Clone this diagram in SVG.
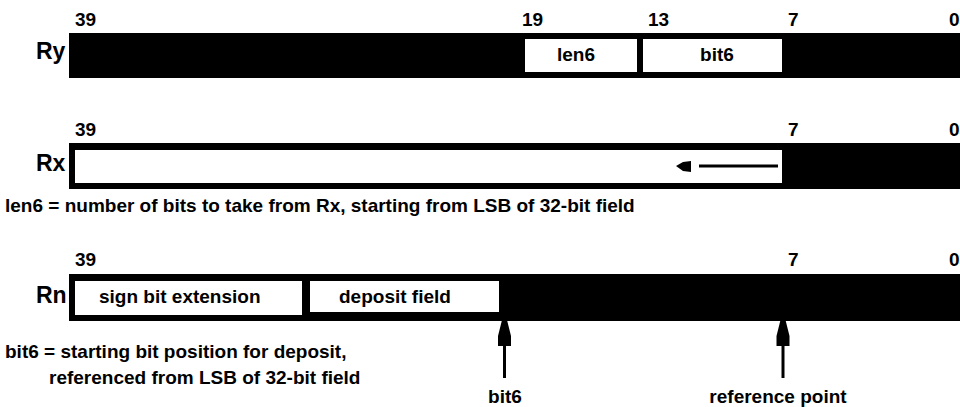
<svg xmlns="http://www.w3.org/2000/svg" width="960" height="407" viewBox="0 0 960 407">
<style>
text{font-family:"Liberation Sans",Arial,sans-serif;font-weight:bold;fill:#000}
.s{font-size:19px}
.r{font-size:23px}
.m{text-anchor:middle}
.bar{fill:#000}
.fld{fill:#fff}
.ln{stroke:#000;stroke-width:3;fill:none}
.hd{fill:#000}
</style>
<rect width="960" height="407" fill="#fff"/>
<g id="Ry">
<text class="s" x="75" y="26">39</text>
<text class="s" x="522" y="26">19</text>
<text class="s" x="648" y="26">13</text>
<text class="s" x="788" y="26">7</text>
<text class="s" x="949" y="26">0</text>
<text class="r" x="36" y="59">Ry</text>
<rect class="bar" x="69" y="33" width="891" height="45"/>
<rect class="fld" x="525" y="39" width="112" height="33"/>
<rect class="fld" x="643" y="39" width="139" height="33"/>
<text class="s m" x="576" y="61">len6</text>
<text class="s m" x="717" y="61">bit6</text>
</g>
<g id="Rx">
<text class="s" x="75" y="136">39</text>
<text class="s" x="788" y="136">7</text>
<text class="s" x="949" y="136">0</text>
<text class="r" x="36" y="171">Rx</text>
<rect class="bar" x="69" y="143" width="891" height="46"/>
<rect class="fld" x="75" y="150" width="707" height="33"/>
</g>
<g id="len6-note">
<text class="s" x="5" y="212">len6 = number of bits to take from Rx, starting from LSB of 32-bit field</text>
</g>
<g id="Rn">
<text class="s" x="75" y="266">39</text>
<text class="s" x="788" y="266">7</text>
<text class="s" x="949" y="266">0</text>
<text class="r" x="36" y="303">Rn</text>
<rect class="bar" x="69" y="274" width="891" height="47"/>
<rect class="fld" x="75" y="281" width="227" height="34"/>
<rect class="fld" x="310" y="281" width="189" height="31"/>
<text class="s" x="99" y="303">sign bit extension</text>
<text class="s" x="339" y="303">deposit field</text>
</g>
<g id="bit6-note">
<text class="s" x="5" y="358">bit6 = starting bit position for deposit,</text>
<text class="s" x="49" y="384">referenced from LSB of 32-bit field</text>
</g>
<g id="bit6-label"><text class="s m" x="505" y="403">bit6</text></g>
<g id="ref-label"><text class="s m" x="778" y="403">reference point</text></g>
<g id="connectors">
<line class="ln" x1="699" y1="166" x2="778" y2="166"/>
<polygon class="hd" points="676,166 683,162 691,161 691,172 683,171"/>
<line class="ln" x1="504.5" y1="344" x2="504.5" y2="378"/>
<polygon class="hd" points="502,320 507,320 511,336 511,346 498,346 498,336"/>
<line class="ln" x1="783" y1="344" x2="783" y2="378"/>
<polygon class="hd" points="780.5,320 785.5,320 789.5,336 789.5,346 776.5,346 776.5,336"/>
</g>
</svg>
